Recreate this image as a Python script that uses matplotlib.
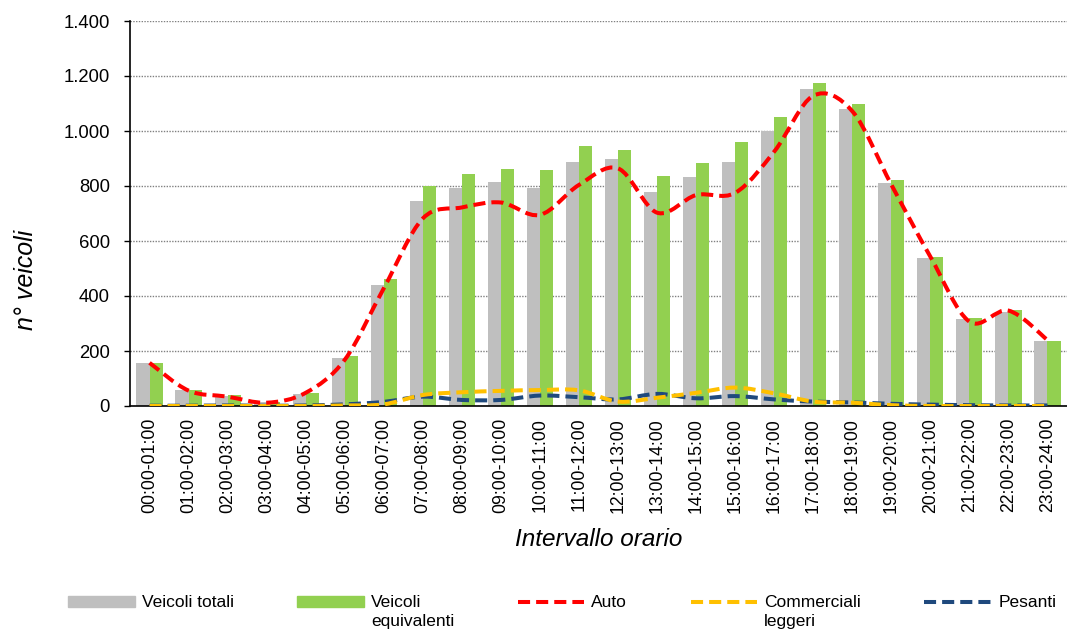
import numpy as np
import matplotlib
matplotlib.use('Agg')
import matplotlib.pyplot as plt
from matplotlib.path import Path
from matplotlib.patches import PathPatch, Patch
from matplotlib.lines import Line2D
from matplotlib.legend_handler import HandlerPatch, HandlerLine2D
from matplotlib.ticker import FuncFormatter

plt.rcParams['font.family'] = ['Liberation Sans', 'DejaVu Sans']

# dati
intervalli = ['00:00-01:00', '01:00-02:00', '02:00-03:00', '03:00-04:00', '04:00-05:00',
              '05:00-06:00', '06:00-07:00', '07:00-08:00', '08:00-09:00', '09:00-10:00',
              '10:00-11:00', '11:00-12:00', '12:00-13:00', '13:00-14:00', '14:00-15:00',
              '15:00-16:00', '16:00-17:00', '17:00-18:00', '18:00-19:00', '19:00-20:00',
              '20:00-21:00', '21:00-22:00', '22:00-23:00', '23:00-24:00']
veicoli_totali = [155, 60, 36, 13, 44, 173, 440, 744, 794, 813, 791, 886,
                  898, 777, 834, 888, 1001, 1151, 1081, 810, 538, 316, 341, 236]
veicoli_equivalenti = [155, 60, 40, 13, 46, 182, 462, 799, 844, 863, 858, 947,
                       930, 836, 882, 959, 1051, 1173, 1100, 821, 542, 319, 348, 236]
auto = [157, 56, 34, 12, 48, 168, 428, 682, 722, 740, 695, 804,
        864, 703, 767, 775, 925, 1128, 1072, 805, 543, 307, 347, 240]
commerciali_leggeri = [0, 0, 0, 0, 0, 2, 6, 40, 50, 55, 58, 57,
                       16, 30, 48, 67, 46, 16, 12, 3, 0, 0, 0, 0]
pesanti = [1, 1, 2, 1, 2, 6, 15, 34, 22, 22, 38, 32,
           24, 44, 28, 36, 24, 16, 13, 8, 5, 3, 2, 2]


# curva smussata tipo Excel (Catmull-Rom -> Bezier)
def smooth_path(x, y):
    x = np.asarray(x, float)
    y = np.asarray(y, float)
    n = len(x)
    verts = [(x[0], y[0])]
    codes = [Path.MOVETO]
    for i in range(n - 1):
        p0 = np.array([x[max(i - 1, 0)], y[max(i - 1, 0)]])
        p1 = np.array([x[i], y[i]])
        p2 = np.array([x[i + 1], y[i + 1]])
        p3 = np.array([x[min(i + 2, n - 1)], y[min(i + 2, n - 1)]])
        c1 = p1 + (p2 - p0) / 6
        c2 = p2 - (p3 - p1) / 6
        verts += [tuple(c1), tuple(c2), tuple(p2)]
        codes += [Path.CURVE4] * 3
    return Path(verts, codes)


# maniglie della legenda spostate in alto, all'altezza della prima riga
SHIFT = 0.61


class PatchSu(HandlerPatch):
    def create_artists(self, legend, orig_handle, xdescent, ydescent, width, height, fontsize, trans):
        return super().create_artists(legend, orig_handle, xdescent, ydescent - SHIFT * fontsize,
                                      width, height, fontsize, trans)


class LineaSu(HandlerLine2D):
    def create_artists(self, legend, orig_handle, xdescent, ydescent, width, height, fontsize, trans):
        return super().create_artists(legend, orig_handle, xdescent, ydescent - 2 * SHIFT * fontsize,
                                      width, height, fontsize, trans)


fig = plt.figure(figsize=(10.67, 6.34), dpi=100)
ax = fig.add_axes([130 / 1067, 1 - 406 / 634, 937 / 1067, 385 / 634])

x = np.arange(len(intervalli))
w = 0.335
ax.bar(x - w / 2, veicoli_totali, w, color='#BFBFBF', zorder=2)
ax.bar(x + w / 2, veicoli_equivalenti, w, color='#92D050', zorder=2)

for serie, col in [(pesanti, '#1F497D'), (commerciali_leggeri, '#FFC000'), (auto, '#FF0000')]:
    patch = PathPatch(smooth_path(x, serie), facecolor='none', edgecolor=col,
                      lw=2.9, linestyle=(0, (3, 1.5)), capstyle='butt', zorder=3)
    ax.add_patch(patch)

ax.set_xlim(-0.5, len(intervalli) - 0.5)
ax.set_ylim(0, 1400)
ax.set_yticks(range(0, 1401, 200))
ax.yaxis.set_major_formatter(FuncFormatter(lambda v, p: f'{int(v):,}'.replace(',', '.')))
ax.set_xticks(x)
ax.set_xticklabels(intervalli, rotation=90)
ax.tick_params(axis='x', length=0, pad=8.5, labelsize=12.7)
ax.tick_params(axis='y', length=4.5, width=1, pad=10, labelsize=13.3, direction='out')
ax.grid(axis='y', linestyle=(0, (1, 1)), color='#808080', lw=1, zorder=0)
for s in ['top', 'right']:
    ax.spines[s].set_visible(False)
ax.spines['left'].set_linewidth(1.2)
ax.spines['bottom'].set_linewidth(1.2)

ax.set_xlabel('Intervallo orario', fontsize=17.5, style='italic', labelpad=11)
ax.set_ylabel('n° veicoli', fontsize=18, style='italic')
ax.yaxis.set_label_coords((38 - 130) / 937, (406 - 280) / 385)

handles = [Patch(color='#BFBFBF'), Patch(color='#92D050'),
           Line2D([], [], color='#FF0000', lw=2.9, dashes=(3, 1.5)),
           Line2D([], [], color='#FFC000', lw=2.9, dashes=(3, 1.5)),
           Line2D([], [], color='#1F497D', lw=2.9, dashes=(3, 1.5))]
labels = ['Veicoli totali\n ', 'Veicoli\nequivalenti', 'Auto\n ', 'Commerciali\nleggeri', 'Pesanti\n ']
leg = fig.legend(handles, labels, loc='upper left', bbox_to_anchor=(68 / 1067, 1 - 595 / 634),
                 ncol=5, frameon=False, fontsize=12.5, handlelength=3.85, handleheight=0.57,
                 handletextpad=0.4, columnspacing=3.65, borderpad=0, borderaxespad=0,
                 handler_map={Patch: PatchSu(), Line2D: LineaSu()})
for t in leg.get_texts():
    t.set_linespacing(1.32)

fig.savefig('out.png', dpi=100)
